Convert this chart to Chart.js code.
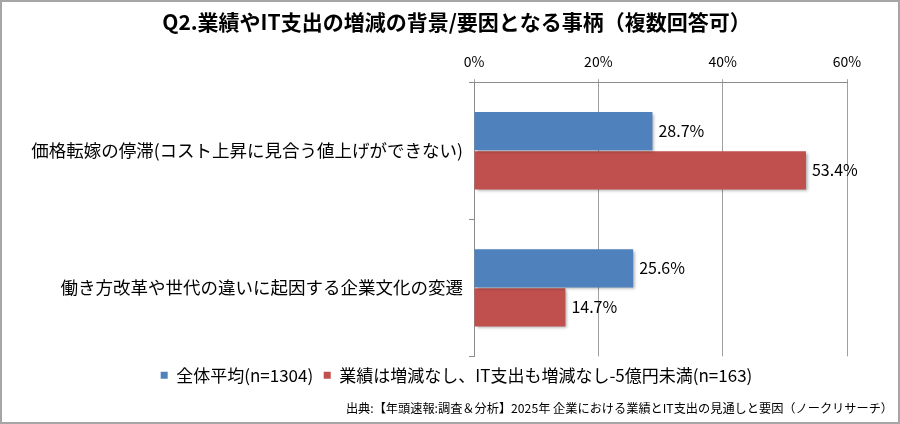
<!DOCTYPE html>
<html>
<head>
<meta charset="utf-8">
<script src="https://cdn.jsdelivr.net/npm/chart.js@4.4.1/dist/chart.umd.min.js"></script>
<style>
  html, body { margin: 0; padding: 0; background: #fff; }
  canvas { display: block; }
</style>
</head>
<body>
<canvas id="bar" width="900" height="424"></canvas>
<script>
const categories = [
  '価格転嫁の停滞(コスト上昇に見合う値上げができない)',
  '働き方改革や世代の違いに起因する企業文化の変遷'
];
const seriesNames = [
  '全体平均(n=1304)',
  '業績は増減なし、IT支出も増減なし-5億円未満(n=163)'
];
const allAverage = [28.7, 25.6];
const flatUnder500m = [53.4, 14.7];
const tickValues = [0, 20, 40, 60];

Chart.defaults.font.family = "'Noto Sans CJK JP', 'Noto Sans', sans-serif";
Chart.defaults.color = '#000';

// labels to the right of each bar
const valueLabels = {
  id: 'valueLabels',
  afterDatasetsDraw(chart) {
    const ctx = chart.ctx;
    ctx.save();
    ctx.font = "16px 'Noto Sans CJK JP', sans-serif";
    ctx.fillStyle = '#000';
    ctx.textBaseline = 'middle';
    ctx.textAlign = 'left';
    chart.data.datasets.forEach((ds, i) => {
      chart.getDatasetMeta(i).data.forEach((bar, j) => {
        ctx.fillText(ds.data[j].toFixed(1) + '%', bar.x + 6, bar.y);
      });
    });
    ctx.restore();
  }
};

// soft shadow under bars, like the Excel original
const barShadow = {
  id: 'barShadow',
  beforeDatasetDraw(chart) {
    const ctx = chart.ctx;
    ctx.save();
    ctx.shadowColor = 'rgba(0,0,0,0.35)';
    ctx.shadowBlur = 3;
    ctx.shadowOffsetX = 2;
    ctx.shadowOffsetY = 2;
  },
  afterDatasetDraw(chart) {
    chart.ctx.restore();
  }
};

const frame = {
  id: 'frame',
  beforeDraw(chart) {
    const ctx = chart.ctx;
    ctx.save();
    ctx.fillStyle = '#fff';
    ctx.fillRect(0, 0, chart.width, chart.height);
    ctx.restore();
  },
  afterDraw(chart) {
    const ctx = chart.ctx;
    ctx.save();
    ctx.strokeStyle = '#a6a6a6';
    ctx.lineWidth = 2;
    ctx.strokeRect(1, 1, chart.width - 2, chart.height - 2);
    ctx.restore();
  }
};

const bar = document.getElementById('bar');

new Chart(bar, {
  type: 'bar',
  data: {
    labels: categories,
    datasets: [{
      label: seriesNames[0],
      data: allAverage,
      backgroundColor: '#4F81BD',
      borderWidth: 0
    }, {
      label: seriesNames[1],
      data: flatUnder500m,
      backgroundColor: '#C0504D',
      borderWidth: 0
    }]
  },
  options: {
    indexAxis: 'y',
    responsive: false,
    animation: false,
    devicePixelRatio: 1,
    categoryPercentage: 0.57,
    barPercentage: 0.98,
    layout: {
      padding: { left: 20, right: 7, top: 0, bottom: 0 }
    },
    scales: {
      x: {
        position: 'top',
        min: 0,
        max: 60,
        afterBuildTicks: (scale) => {
          scale.ticks = tickValues.map(v => ({ value: v }));
        },
        afterFit: (scale) => {
          scale.height = 48;
        },
        ticks: {
          callback: (v) => v + '%',
          font: { size: 14 },
          color: '#000',
          padding: 9
        },
        grid: {
          color: '#a0a0a0',
          tickLength: 3
        },
        border: { color: '#8c8c8c' }
      },
      y: {
        afterFit: (scale) => {
          scale.width = 454;
        },
        ticks: {
          font: { size: 17.5 },
          color: '#000',
          padding: 6
        },
        grid: {
          offset: true,
          drawOnChartArea: false,
          color: '#8c8c8c',
          tickLength: 5
        },
        border: { color: '#8c8c8c' }
      },
      // empty right-hand strip so the plot stops short of the frame
      yRight: {
        type: 'category',
        axis: 'y',
        position: 'right',
        afterFit: (scale) => {
          scale.width = 46;
        },
        ticks: { display: false },
        grid: { display: false },
        border: { display: false }
      }
    },
    plugins: {
      title: {
        display: true,
        text: 'Q2.業績やIT支出の増減の背景/要因となる事柄（複数回答可）',
        font: { size: 21, weight: 'bold' },
        color: '#000',
        padding: { top: 9, bottom: 0 }
      },
      subtitle: {
        display: true,
        position: 'bottom',
        align: 'end',
        text: '出典:【年頭速報:調査＆分析】2025年 企業における業績とIT支出の見通しと要因（ノークリサーチ）',
        font: { size: 12.2 },
        color: '#000',
        padding: { top: 7.5, bottom: 8 }
      },
      legend: {
        position: 'bottom',
        labels: {
          boxWidth: 7,
          boxHeight: 7,
          padding: 10.5,
          font: { size: 17 },
          color: '#000'
        }
      },
      tooltip: { enabled: false }
    }
  },
  plugins: [frame, barShadow, valueLabels]
});
</script>
</body>
</html>
